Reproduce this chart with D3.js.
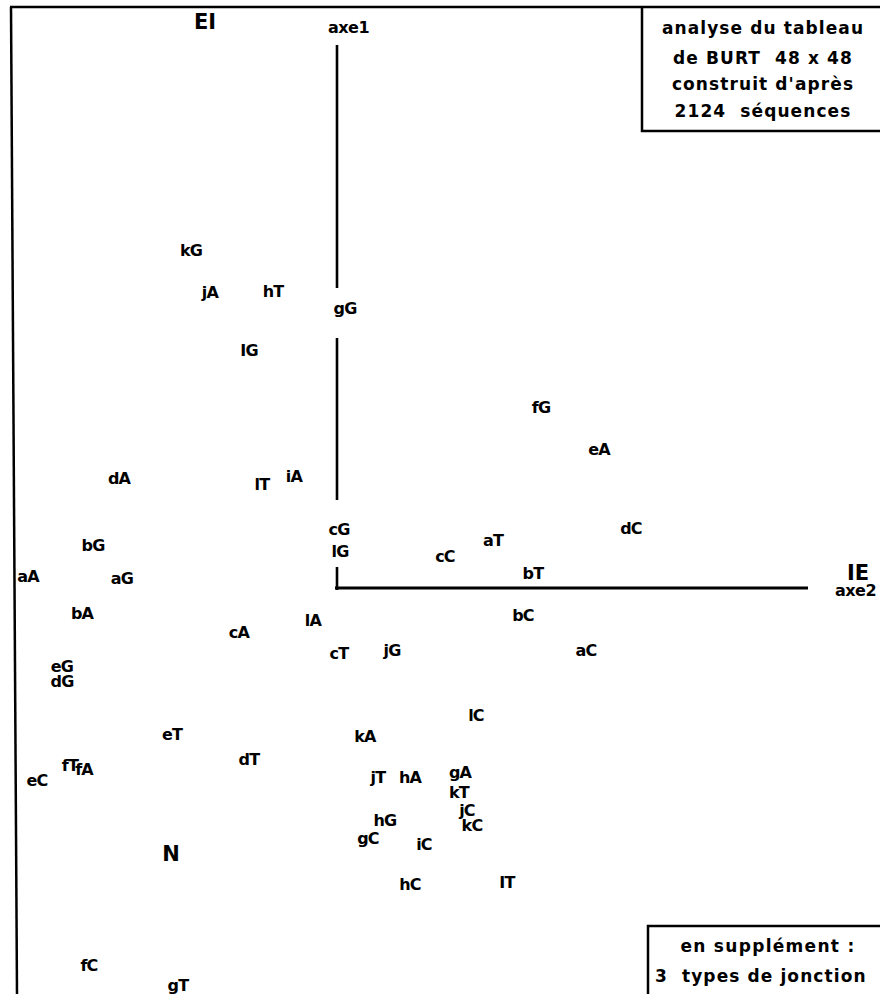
<!DOCTYPE html>
<html><head><meta charset="utf-8">
<script src="https://cdn.jsdelivr.net/npm/d3@7/dist/d3.min.js"></script>
<style>
html,body{margin:0;padding:0;background:#fff;}
svg{display:block;}
text{white-space:pre;}
</style></head>
<body>
<script>
// 48 active categories (position letter a..l x nucleotide A,C,G,T)
const labels = ["kG","jA","hT","gG","IG","dA","lT","iA","fG","eA","dC","aT","bT","cC","cG","lG",
  "bG","aA","aG","bA","cA","lA","cT","jG","bC","aC","eG","dG","eT","dT","kA","jT","hA","fT","fA","eC",
  "lC","gA","kT","jC","kC","hG","gC","iC","hC","IT","fC","gT"];
const axe2 = [-1.46,-1.27,-0.64,0.08,-0.88,-2.18,-0.75,-0.43,2.04,2.62,2.94,1.56,1.96,1.08,0.02,0.03,
  -2.44,-3.09,-2.15,-2.55,-0.98,-0.24,0.02,0.55,1.86,2.49,-2.75,-2.75,-1.65,-0.88,0.28,0.41,0.73,-2.67,-2.53,-3.00,
  1.39,1.23,1.22,1.30,1.35,0.48,0.31,0.87,0.73,1.70,-2.48,-1.59];
const axe1 = [3.38,2.96,2.97,2.80,2.38,1.10,1.04,1.12,1.81,1.39,0.60,0.48,0.15,0.32,0.59,0.37,
  0.43,0.12,0.10,-0.25,-0.44,-0.32,-0.65,-0.62,-0.27,-0.62,-0.78,-0.93,-1.46,-1.71,-1.48,-1.89,-1.89,-1.77,-1.81,-1.92,
  -1.27,-1.84,-2.04,-2.22,-2.37,-2.32,-2.50,-2.56,-2.96,-2.94,-3.77,-3.97];
// supplementary: 3 junction types
const suppLabels = ["EI","IE","N"];
const suppAxe2 = [-1.32,5.21,-1.66];
const suppAxe1 = [5.67,0.16,-2.65];
const infoLines = ["analyse du tableau","de BURT  48 x 48","construit d'après","2124  séquences"];
const suppLines = ["en supplément :","3  types de jonction"];

const W = 880, H = 994;
const x = d3.scaleLinear().domain([-3.37, 5.43]).range([0, W]);
const y = d3.scaleLinear().domain([5.88, -4.06]).range([0, H]);

const svg = d3.select("body").append("svg").attr("width", W).attr("height", H);
const ink = "#000";
const FF = "DejaVu Sans";

// frame
svg.append("line").attr("x1",10).attr("y1",7).attr("x2",W).attr("y2",7).attr("stroke",ink).attr("stroke-width",2.5);
svg.append("line").attr("x1",11).attr("y1",7).attr("x2",17).attr("y2",H).attr("stroke",ink).attr("stroke-width",2.5);

// axes
const x0 = x(0), y0 = y(0);
const vSegs = [[5.43,3.00],[2.50,0.88],[0.21,-0.02]];
vSegs.forEach(s => svg.append("line").attr("x1",x0).attr("x2",x0).attr("y1",y(s[0])).attr("y2",y(s[1]))
  .attr("stroke",ink).attr("stroke-width",2.6));
svg.append("line").attr("x1",x0-2).attr("x2",x(4.71)).attr("y1",y0).attr("y2",y0).attr("stroke",ink).attr("stroke-width",3);

svg.append("text").attr("x",x0-9).attr("y",33).text("axe1")
  .attr("font-family",FF).attr("font-weight","bold").attr("font-size",16).attr("letter-spacing",-0.5);
svg.append("text").attr("x",835).attr("y",y0+8).text("axe2")
  .attr("font-family",FF).attr("font-weight","bold").attr("font-size",16).attr("letter-spacing",-0.5);

// info box
svg.append("path").attr("d","M642,7 L642,131 L880,131").attr("fill","none").attr("stroke",ink).attr("stroke-width",2.5);
const ib = [34,64,90,117];
infoLines.forEach((t,i)=> svg.append("text").attr("x",763).attr("y",ib[i]).attr("text-anchor","middle").text(t)
  .attr("font-family",FF).attr("font-weight","bold").attr("font-size",17).attr("letter-spacing",1.1));

// supplementary box
svg.append("path").attr("d","M648,994 L648,926 L880,926").attr("fill","none").attr("stroke",ink).attr("stroke-width",2.5);
svg.append("text").attr("x",768).attr("y",952).attr("text-anchor","middle").text(suppLines[0])
  .attr("font-family",FF).attr("font-weight","bold").attr("font-size",17).attr("letter-spacing",1.3);
svg.append("text").attr("x",655).attr("y",982).text(suppLines[1])
  .attr("font-family",FF).attr("font-weight","bold").attr("font-size",17).attr("letter-spacing",1.1);

// active points
svg.append("g").selectAll("text").data(labels).join("text")
  .attr("x",(d,i)=>x(axe2[i])).attr("y",(d,i)=>y(axe1[i])).attr("dy","0.36em")
  .attr("text-anchor","middle").text(d=>d)
  .attr("font-family",FF).attr("font-weight","bold").attr("font-size",16).attr("letter-spacing",-0.8);

// supplementary points
svg.append("g").selectAll("text").data(suppLabels).join("text")
  .attr("x",(d,i)=>x(suppAxe2[i])).attr("y",(d,i)=>y(suppAxe1[i])).attr("dy","0.36em")
  .attr("text-anchor","middle").text(d=>d)
  .attr("font-family",FF).attr("font-weight","bold").attr("font-size",21);
</script>
</body></html>
